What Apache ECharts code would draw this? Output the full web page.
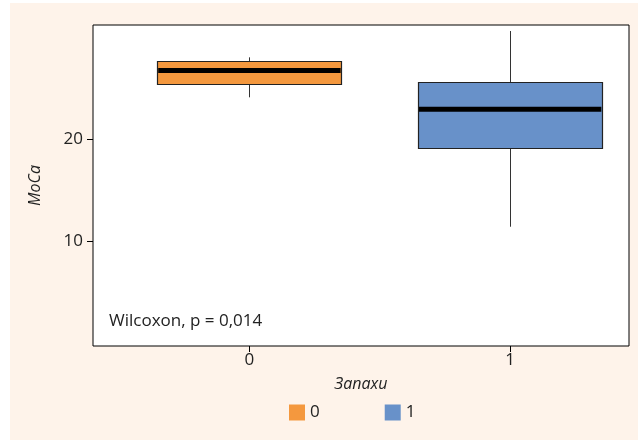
<!DOCTYPE html>
<html>
<head>
<meta charset="utf-8">
<script src="https://cdn.jsdelivr.net/npm/echarts@6/dist/echarts.min.js"></script>
<style>
html,body{margin:0;padding:0;background:#fff;}
#c{width:638px;height:440px;}
</style>
</head>
<body>
<div id="c"></div>
<script>
// Data
const groups = ['0', '1'];
const groupPos = [0, 1];
const whiskerMin = [24.14, 11.45];
const q1 = [25.51, 19.10];
const median = [26.78, 22.96];
const q3 = [27.73, 25.61];
const whiskerMax = [28.06, 30.64];
const colors = ['#F4983E', '#6891C9'];
const yTicks = [10, 20];
const xTicks = [0, 1];
const yTitle = 'MoCa';
const xTitle = 'Запахи';
const testLabel = 'Wilcoxon, p = 0,014';

const FONT = 'Open Sans';
const FS = 17;
const chart = echarts.init(document.getElementById('c'), null, {renderer: 'canvas'});

const halfW = 0.3537;
function renderBox(params, api) {
  const x = api.value(0);
  const lo = api.coord([x, api.value(1)]);
  const b1 = api.coord([x, api.value(2)]);
  const md = api.coord([x, api.value(3)]);
  const b3 = api.coord([x, api.value(4)]);
  const hi = api.coord([x, api.value(5)]);
  const l = api.coord([x - halfW, 0])[0];
  const r = api.coord([x + halfW, 0])[0];
  const cx = Math.round(lo[0]) + 0.5;
  return {
    type: 'group',
    children: [
      {type: 'line', shape: {x1: cx, y1: hi[1], x2: cx, y2: lo[1]}, style: {stroke: '#333', lineWidth: 1}},
      {type: 'rect', shape: {x: Math.round(l) + 0.5, y: Math.round(b3[1]) + 0.5, width: Math.round(r - l), height: Math.round(b1[1] - b3[1])},
        style: {fill: api.visual('color'), stroke: '#222', lineWidth: 1.2}},
      {type: 'line', shape: {x1: l + 1, y1: md[1], x2: r - 1, y2: md[1]}, style: {stroke: '#000', lineWidth: 5}}
    ]
  };
}

const series = groups.map((g, i) => ({
  name: g,
  type: 'custom',
  renderItem: renderBox,
  itemStyle: {color: colors[i]},
  encode: {x: 0, y: [1, 2, 3, 4, 5]},
  data: [[groupPos[i], whiskerMin[i], q1[i], median[i], q3[i], whiskerMax[i]]],
  z: 3
}));

chart.setOption({
  animation: false,
  backgroundColor: 'transparent',
  graphic: [
    {type: 'rect', shape: {x: 10, y: 3, width: 628, height: 437}, style: {fill: '#FEF3EA'}, z: -10, silent: true},
    {type: 'text', left: 109, top: 313, style: {text: testLabel, font: '17px "' + FONT + '"', fill: '#222'}, z: 10}
  ],
  grid: {
    left: 93, right: 9, top: 25, bottom: 94,
    show: true, backgroundColor: '#fff', borderColor: '#000', borderWidth: 1
  },
  legend: {
    data: groups,
    left: 284, top: 399,
    icon: 'rect', itemWidth: 16, itemHeight: 16, itemGap: 65,
    textStyle: {fontFamily: FONT, fontSize: FS, color: '#222', padding: [0, 0, 0, 0]}
  },
  xAxis: {
    type: 'value', min: -0.6, max: 1.456,
    splitLine: {show: false},
    axisLine: {show: false, onZero: false},
    axisTick: {show: true, customValues: xTicks, length: 6, lineStyle: {color: '#000'}},
    axisLabel: {customValues: xTicks, formatter: v => String(v), fontFamily: FONT, fontSize: FS, color: '#222', margin: 6},
    name: xTitle, nameLocation: 'middle', nameGap: 30,
    nameTextStyle: {fontFamily: FONT, fontSize: 16, fontStyle: 'italic', color: '#222'}
  },
  yAxis: {
    type: 'value', min: -0.245, max: 31.23,
    splitLine: {show: false},
    axisLine: {show: false, onZero: false},
    axisTick: {show: true, customValues: yTicks, length: 6, lineStyle: {color: '#000'}},
    axisLabel: {customValues: yTicks, fontFamily: FONT, fontSize: FS, color: '#222', margin: 10},
    name: yTitle, nameLocation: 'middle', nameGap: 50, nameRotate: 90,
    nameTextStyle: {fontFamily: FONT, fontSize: 16, fontStyle: 'italic', color: '#222'}
  },
  series: series
});
</script>
</body>
</html>
